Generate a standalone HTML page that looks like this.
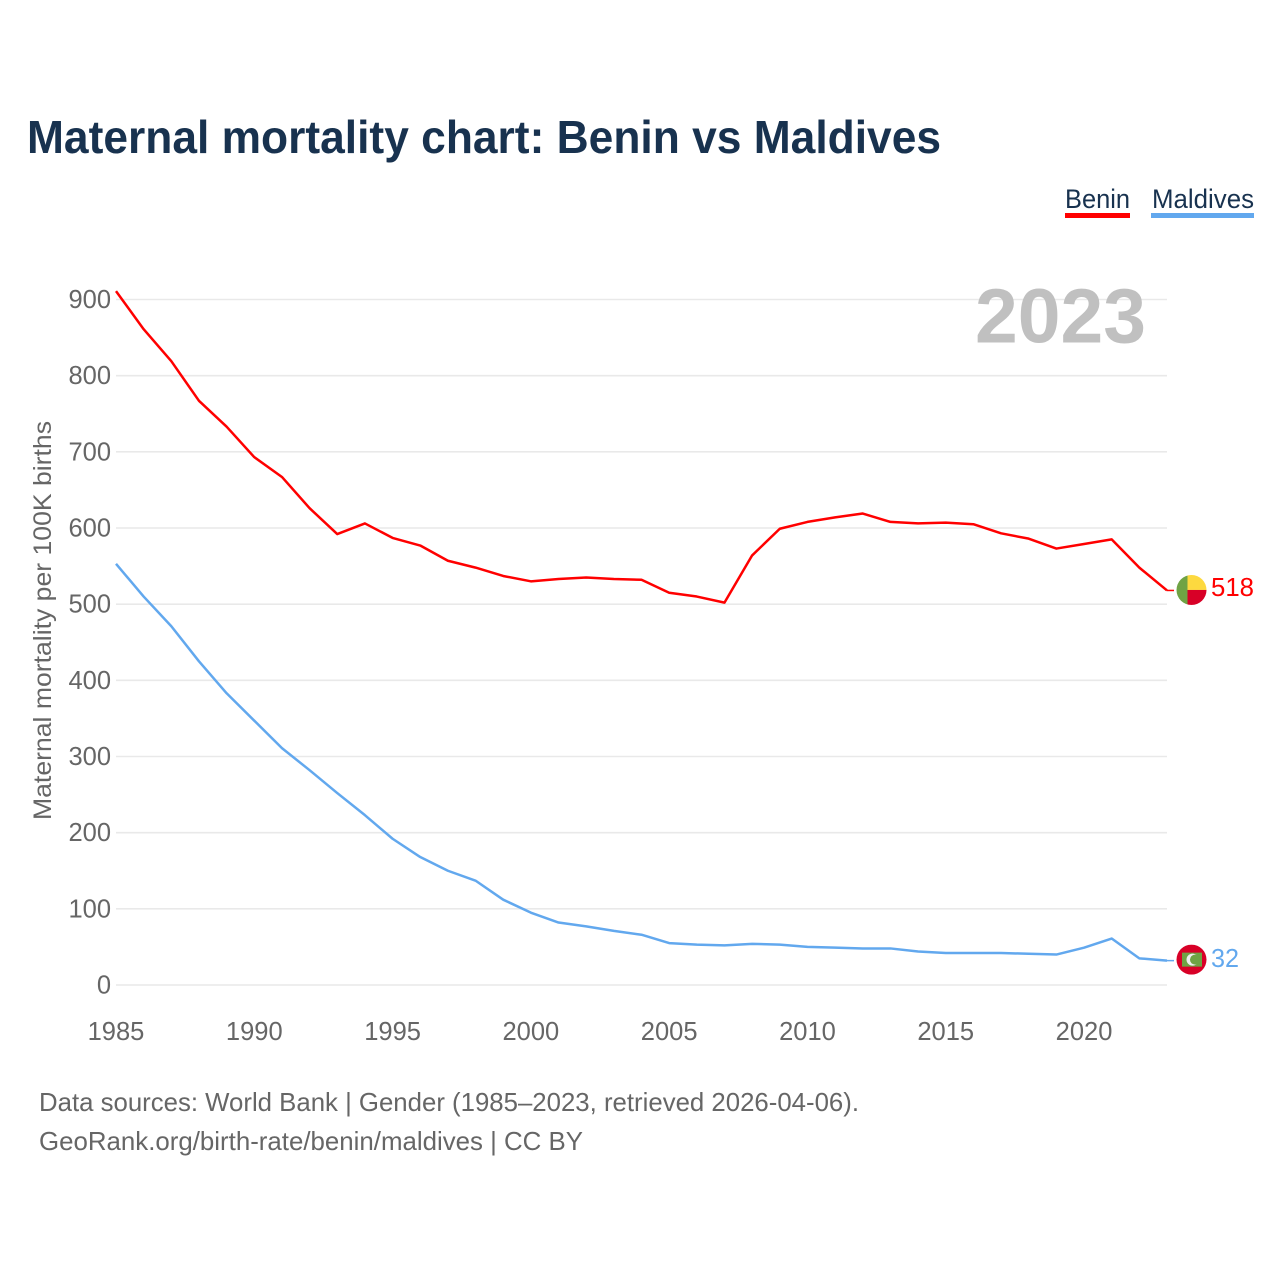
<!DOCTYPE html>
<html lang="en">
<head>
<meta charset="utf-8">
<title>Maternal mortality chart: Benin vs Maldives</title>
<style>
html,body{margin:0;padding:0;background:#fff;width:1280px;height:1280px;overflow:hidden}
svg{display:block;font-family:"Liberation Sans",sans-serif}
</style>
</head>
<body>
<svg id="chart" xmlns="http://www.w3.org/2000/svg" width="1280" height="1280" viewBox="0 0 1280 1280">
  <rect width="1280" height="1280" fill="#fff"/>
  <text x="27" y="153" font-size="46" font-weight="700" fill="#18324f" textLength="914" lengthAdjust="spacingAndGlyphs">Maternal mortality chart: Benin vs Maldives</text>

  <g>
    <text x="1065" y="208" font-size="27" fill="#18324f" textLength="65" lengthAdjust="spacingAndGlyphs">Benin</text>
    <rect x="1065" y="213" width="65" height="5" fill="#ff0000"/>
  </g>
  <g>
    <text x="1152" y="208" font-size="27" fill="#18324f" textLength="102" lengthAdjust="spacingAndGlyphs">Maldives</text>
    <rect x="1151" y="213" width="103" height="5" fill="#62a8ee"/>
  </g>

  <g id="grid"></g>
  <text x="975" y="342.5" font-size="77" font-weight="700" fill="#c0c0c0" textLength="171" lengthAdjust="spacingAndGlyphs">2023</text>
  <g id="y-ticks"></g>
  <g id="x-ticks"></g>
  <text transform="translate(51,820) rotate(-90)" font-size="25" fill="#666" textLength="399" lengthAdjust="spacingAndGlyphs">Maternal mortality per 100K births</text>

  <g id="series"></g>

  <defs>
    <clipPath id="benin-clip"><circle id="benin-clip-circle" r="15"/></clipPath>
    <clipPath id="maldives-clip"><circle id="maldives-clip-circle" r="15"/></clipPath>
  </defs>
  <g id="benin-flag" clip-path="url(#benin-clip)"></g>
  <g id="maldives-flag" clip-path="url(#maldives-clip)"></g>
  <text id="benin-value" font-size="26" fill="#ff0000" textLength="43" lengthAdjust="spacingAndGlyphs"></text>
  <text id="maldives-value" font-size="26" fill="#62a8ee" textLength="28" lengthAdjust="spacingAndGlyphs"></text>

  <text x="39" y="1111" font-size="26" fill="#666" textLength="820" lengthAdjust="spacingAndGlyphs">Data sources: World Bank | Gender (1985–2023, retrieved 2026-04-06).</text>
  <text x="39" y="1150" font-size="26" fill="#666" textLength="544" lengthAdjust="spacingAndGlyphs">GeoRank.org/birth-rate/benin/maldives | CC BY</text>
</svg>
<script>
const years = [1985,1986,1987,1988,1989,1990,1991,1992,1993,1994,1995,1996,1997,1998,1999,2000,2001,2002,2003,2004,2005,2006,2007,2008,2009,2010,2011,2012,2013,2014,2015,2016,2017,2018,2019,2020,2021,2022,2023];
const beninValues = [911,861,819,767,733,693,667,626,592,606,587,577,557,548,537,530,533,535,533,532,515,510,502,564,599,608,614,619,608,606,607,605,593,586,573,579,585,548,518];
const maldivesValues = [553,510,471,425,383,347,311,282,252,223,192,168,150,137,112,95,82,77,71,66,55,53,52,54,53,50,49,48,48,44,42,42,42,41,40,49,61,35,32];
const yTickValues = [0,100,200,300,400,500,600,700,800,900];
const xTickValues = [1985,1990,1995,2000,2005,2010,2015,2020];

const NS = 'http://www.w3.org/2000/svg';
const plotLeft = 116, plotRight = 1167, plotBottom = 985, plotTop = 299.5;
function xScale(year) {
  return plotLeft + (year - 1985) * (plotRight - plotLeft) / (2023 - 1985);
}
function yScale(value) {
  return plotBottom - value * (plotBottom - plotTop) / 900;
}
function make(tag, attrs, parent) {
  const el = document.createElementNS(NS, tag);
  for (const k in attrs) el.setAttribute(k, attrs[k]);
  parent.appendChild(el);
  return el;
}
const grid = document.getElementById('grid');
const yTicks = document.getElementById('y-ticks');
const xTicks = document.getElementById('x-ticks');
const series = document.getElementById('series');

yTickValues.forEach(function (v) {
  const line = make('line', {x1: plotLeft, x2: plotRight, y1: yScale(v), y2: yScale(v), stroke: '#e9e9e9', 'stroke-width': 1.6}, grid);
  
  
  const t = make('text', {x: 111, y: yScale(v) + 8.5, 'text-anchor': 'end', 'font-size': 25.5, fill: '#666'}, yTicks);
  
  
  t.textContent = v;
});
xTickValues.forEach(function (y) {
  const t = make('text', {x: xScale(y), y: 1040, 'text-anchor': 'middle', 'font-size': 25.5, fill: '#666'}, xTicks);
  
  
  t.textContent = y;
});
function pathFor(values) {
  return values.map(function (v, i) {
    return (i ? 'L' : 'M') + xScale(years[i]).toFixed(2) + ' ' + yScale(v).toFixed(2);
  }).join(' ');
}
const beninLine = make('path', {d: pathFor(beninValues), fill: 'none', stroke: '#ff0000', 'stroke-width': 2.5, 'stroke-linejoin': 'round'}, series);


const maldivesLine = make('path', {d: pathFor(maldivesValues), fill: 'none', stroke: '#62a8ee', 'stroke-width': 2.5, 'stroke-linejoin': 'round'}, series);



const lastBenin = beninValues[beninValues.length - 1];
const lastMaldives = maldivesValues[maldivesValues.length - 1];
const lastYear = years[years.length - 1];
const beninConnector = make('line', {x1: xScale(lastYear), x2: 1174, y1: yScale(lastBenin), y2: yScale(lastBenin), stroke: '#ff0000', 'stroke-width': 1.5}, series);


const maldivesConnector = make('line', {x1: xScale(lastYear), x2: 1174, y1: yScale(lastMaldives), y2: yScale(lastMaldives), stroke: '#62a8ee', 'stroke-width': 1.5}, series);



const flagX = 1191.5;
const beninY = yScale(lastBenin) - 0.5;
const maldivesY = yScale(lastMaldives) - 1;
const beninClip = document.getElementById('benin-clip-circle');
beninClip.setAttribute('cx', flagX);
beninClip.setAttribute('cy', beninY);
const maldivesClip = document.getElementById('maldives-clip-circle');
maldivesClip.setAttribute('cx', flagX);
maldivesClip.setAttribute('cy', maldivesY);

const bf = document.getElementById('benin-flag');
make('rect', {x: flagX - 15, y: beninY - 15, width: 11, height: 30, fill: '#6fa344'}, bf);
make('rect', {x: flagX - 4, y: beninY - 15, width: 19, height: 15, fill: '#fdd93f'}, bf);
make('rect', {x: flagX - 4, y: beninY, width: 19, height: 15, fill: '#d80027'}, bf);

const mf = document.getElementById('maldives-flag');
make('rect', {x: flagX - 15, y: maldivesY - 15, width: 30, height: 30, fill: '#d80027'}, mf);
make('rect', {x: flagX - 9.5, y: maldivesY - 7, width: 20, height: 14, fill: '#6fa344'}, mf);
make('circle', {cx: flagX + 1, cy: maldivesY, r: 6, fill: '#eeeeee'}, mf);
make('circle', {cx: flagX + 3.5, cy: maldivesY, r: 5, fill: '#6fa344'}, mf);

const bv = document.getElementById('benin-value');
bv.setAttribute('x', 1211);
bv.setAttribute('y', yScale(lastBenin) + 5.5);
bv.textContent = lastBenin;
const mv = document.getElementById('maldives-value');
mv.setAttribute('x', 1211);
mv.setAttribute('y', yScale(lastMaldives) + 6.5);
mv.textContent = lastMaldives;
</script>
</body>
</html>
